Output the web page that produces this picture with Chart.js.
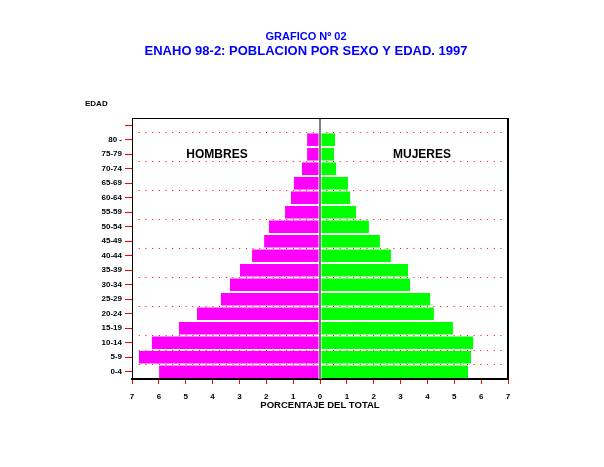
<!DOCTYPE html>
<html>
<head>
<meta charset="utf-8">
<script src="https://cdn.jsdelivr.net/npm/chart.js@4"></script>
<style>
    html, body { margin: 0; padding: 0; background: #fff; }
    #wrap { width: 604px; height: 467px; }
</style>
</head>
<body>
<div id="wrap"><canvas id="pyramid" width="604" height="467"></canvas></div>
<script>
// Age groups, top to bottom (first slot is the empty one above 80 -)
const ageGroups = ['', '80 -', '75-79', '70-74', '65-69', '60-64', '55-59', '50-54', '45-49',
    '40-44', '35-39', '30-34', '25-29', '20-24', '15-19', '10-14', '5-9', '0-4'];

// Percent of total population
const menPct   = [null, 0.48, 0.48, 0.67, 0.97, 1.08, 1.30, 1.90, 2.08,
    2.53, 2.98, 3.35, 3.69, 4.58, 5.25, 6.26, 6.74, 5.99];
const womenPct = [null, 0.56, 0.52, 0.60, 1.04, 1.12, 1.34, 1.82, 2.23,
    2.64, 3.28, 3.35, 4.10, 4.24, 4.95, 5.70, 5.62, 5.51];

const pctMin = -7;
const pctMax = 7;

const FONT = '"Liberation Sans", Arial, sans-serif';

// titles, labels and the frame round the plot
const decorations = {
    id: 'decorations',
    afterDatasetsDraw(chart) {
        const { ctx, chartArea: a, scales } = chart;
        const x0 = scales.x.getPixelForValue(0);
        ctx.save();
        // centre line with a little white gap each side
        ctx.fillStyle = '#fff';
        ctx.fillRect(x0 - 1.5, a.top, 3, a.bottom - a.top);
        ctx.fillStyle = '#000';
        ctx.fillRect(Math.round(x0) - 0.5, a.top, 1, a.bottom - a.top);
        // top and right of the box
        ctx.strokeStyle = '#000';
        ctx.lineWidth = 1;
        ctx.beginPath();
        ctx.moveTo(a.left, a.top + 0.5);
        ctx.lineTo(a.right, a.top + 0.5);
        ctx.stroke();
        ctx.lineWidth = 2;
        ctx.beginPath();
        ctx.moveTo(a.right, a.top);
        ctx.lineTo(a.right, a.bottom + 1);
        ctx.stroke();

        ctx.textAlign = 'center';
        ctx.textBaseline = 'middle';
        ctx.fillStyle = '#0000ff';
        ctx.font = 'bold 11px ' + FONT;
        ctx.fillText('GRAFICO Nº 02', 306, 37);
        ctx.font = 'bold 13px ' + FONT;
        ctx.fillText('ENAHO 98-2: POBLACION POR SEXO Y EDAD. 1997', 306, 51);

        ctx.fillStyle = '#000';
        ctx.font = 'bold 12px ' + FONT;
        ctx.fillText('HOMBRES', 217, 155);
        ctx.fillText('MUJERES', 422, 155);
        ctx.textAlign = 'left';
        ctx.font = 'bold 8px ' + FONT;
        ctx.fillText('EDAD', 85, 104);
        ctx.restore();
    }
};

// dotted lines on every other age boundary
function gridColor(c) {
    const i = c.index;
    return (i % 2 === 1) || i === 16 ? '#ff0000' : 'rgba(0,0,0,0)';
}

new Chart(document.getElementById('pyramid'), {
    type: 'bar',
    data: {
        labels: ageGroups,
        datasets: [{
            label: 'Hombres',
            data: menPct.map(v => v === null ? null : -v),
            backgroundColor: '#ff00ff',
            barPercentage: 0.87,
            categoryPercentage: 1
        }, {
            label: 'Mujeres',
            data: womenPct,
            backgroundColor: '#00ff00',
            barPercentage: 0.87,
            categoryPercentage: 1
        }]
    },
    options: {
        indexAxis: 'y',
        responsive: false,
        animation: false,
        layout: { padding: { top: 118, right: 96, bottom: 56, left: 0 } },
        plugins: {
            legend: { display: false },
            tooltip: { enabled: false }
        },
        scales: {
            x: {
                min: pctMin,
                max: pctMax,
                stacked: true,
                afterFit: s => { s.height = 32; },
                ticks: {
                    stepSize: 1,
                    padding: 8,
                    color: '#000',
                    font: { family: FONT, size: 8, weight: 'bold' },
                    callback: v => Math.abs(v)
                },
                grid: {
                    drawOnChartArea: false,
                    tickLength: 5,
                    tickColor: '#ff0000'
                },
                border: { color: '#000', width: 2 },
                title: {
                    display: true,
                    text: 'PORCENTAJE DEL TOTAL',
                    color: '#000',
                    padding: 0,
                    font: { family: FONT, size: 9.5, weight: 'bold' }
                }
            },
            y: {
                stacked: true,
                afterFit: s => { s.width = 132; },
                ticks: {
                    autoSkip: false,
                    padding: 3,
                    color: '#000',
                    font: { family: FONT, size: 8, weight: 'bold' }
                },
                grid: {
                    offset: false,
                    drawOnChartArea: false,
                    tickLength: 7,
                    tickColor: '#ff0000'
                },
                border: { color: '#000', width: 1 }
            },
            // invisible axis that only carries the dotted boundary lines
            yGrid: {
                type: 'category',
                axis: 'y',
                position: 'right',
                labels: ageGroups,
                afterFit: s => { s.width = 0; },
                ticks: { display: false },
                grid: {
                    offset: true,
                    color: gridColor,
                    lineWidth: 1,
                    drawTicks: false
                },
                border: { display: false, dash: [1, 5.7] }
            }
        }
    },
    plugins: [decorations]
});
</script>
</body>
</html>
